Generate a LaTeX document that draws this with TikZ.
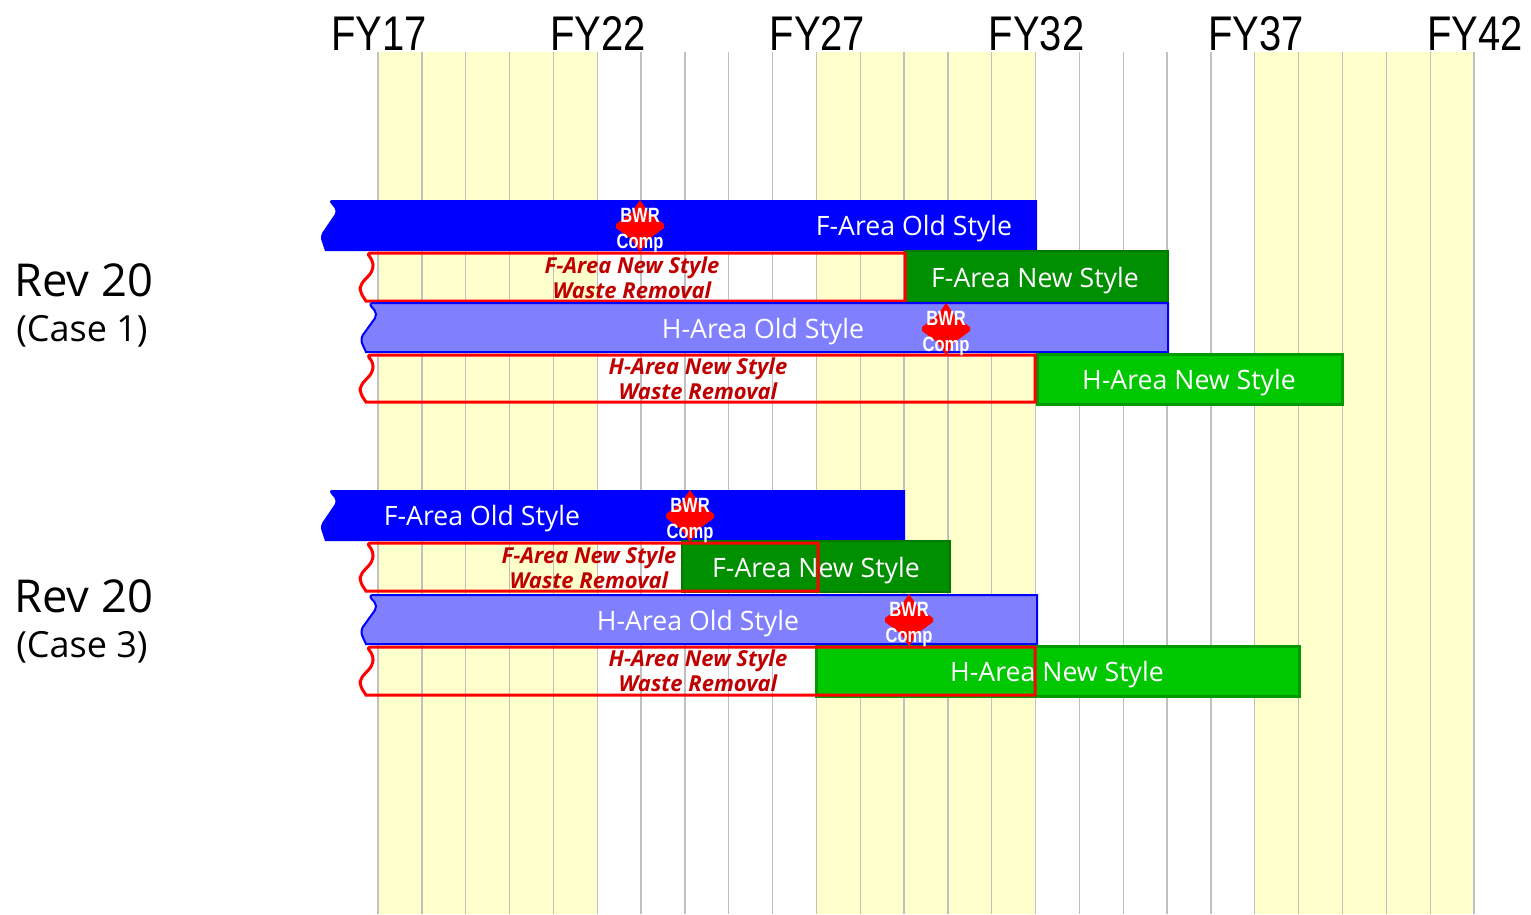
\documentclass[tikz,border=0pt]{standalone}
\usepackage{fontspec}
\setmainfont{Open Sans}
\newfontfamily\fyfont[FakeStretch=0.82]{Liberation Sans}
\newfontfamily\bwrfont[FakeStretch=0.8]{Liberation Sans}
\definecolor{bandyellow}{HTML}{FFFFCC}
\definecolor{gridgray}{HTML}{C0C0C0}
\definecolor{oldblue}{HTML}{0000FF}
\definecolor{oldlight}{HTML}{8080FF}
\definecolor{newdark}{HTML}{008F00}
\definecolor{newbright}{HTML}{00C800}
\definecolor{newedge}{HTML}{009900}
\definecolor{wrred}{HTML}{C00000}

\begin{document}
\begin{tikzpicture}[x=0.75pt,y=-0.75pt,
  fylabel/.style={anchor=base,inner sep=0pt,font=\fyfont\fontsize{36.5}{40}\selectfont},
  revlabel/.style={anchor=base west,inner sep=0pt,font=\fontsize{34}{40}\selectfont},
  caselabel/.style={anchor=base west,inner sep=0pt,font=\fontsize{27}{32}\selectfont},
  oldbar/.style={fill=oldblue},
  lightbar/.style={fill=oldlight,draw=oldblue,line width=1.5pt},
  darkbar/.style={fill=newdark,draw=newdark!85!black,line width=1pt},
  brightbar/.style={fill=newbright,draw=newedge,line width=2.25pt},
  wrbox/.style={draw=red,line width=2.25pt},
  bartext/.style={anchor=base,inner sep=0pt,text=white,font=\fontsize{20}{24}\selectfont},
  wrtext/.style={inner sep=0pt,text=wrred,align=center,font=\bfseries\itshape\fontsize{16.5}{18.75}\selectfont},
  bwrtext/.style={anchor=base,inner sep=0pt,text=white,font=\bwrfont\bfseries\fontsize{15.5}{17}\selectfont},
  bwr/.pic={
    \fill[red] (0,-26) -- (9,-13) -- (24,-2) -- (24,2) -- (9,13) -- (0,26)
      -- (-9,13) -- (-24,2) -- (-24,-2) -- (-9,-13) -- cycle;
    \node[bwrtext] (-top) at (0,-4) {BWR};
    \node[bwrtext] (-bottom) at (0,22) {Comp};
  }]
  \useasboundingbox (0,0) rectangle (1531,914);

  \fill[bandyellow] (378,52) rectangle (597,914);
  \fill[bandyellow] (816,52) rectangle (1035,914);
  \fill[bandyellow] (1255,52) rectangle (1474,914);
  \foreach \k in {0,...,25}
    \draw[gridgray,line width=1pt] ({378+43.84*\k},52) -- ({378+43.84*\k},914);
  \foreach \yr [count=\j from 0] in {17,22,27,32,37,42}
    \node[fylabel] (fy\yr) at ({379+219.2*\j},50) {FY\yr};

  \node[revlabel] (rev1) at (14,296) {Rev 20};
  \node[caselabel] (case1) at (16,341) {(Case 1)};
  \node[revlabel] (rev3) at (14,612) {Rev 20};
  \node[caselabel] (case3) at (16,657) {(Case 3)};

  \fill[oldbar] (328,200) -- (1037,200) -- (1037,251) -- (325,251) [rounded corners=3pt] -- (320,236) -- (337,211) -- cycle;
  \node[bartext] (fold1) at (914,235) {F-Area Old Style};
  \draw[darkbar] (905,251) rectangle (1168,302);
  \node[bartext] (fnew1) at (1035,287) {F-Area New Style};
  \draw[wrbox] (905,253) -- (905,301) -- (366,301) [rounded corners=4pt] -- (360,292) -- (360,285) -- (373,271) -- (373,260) -- (366,253) [sharp corners] -- cycle;
  \node[wrtext] (fwr1) at (632,278) {F-Area New Style\\Waste Removal};
  \draw[lightbar] (368,303) -- (1168,303) -- (1168,352) -- (366,352) [rounded corners=4pt] -- (360,339) -- (378,314) -- cycle;
  \node[bartext] (hold1) at (763,338) {H-Area Old Style};
  \draw[brightbar] (1037,354) rectangle (1342,404);
  \node[bartext] (hnew1) at (1189,389) {H-Area New Style};
  \draw[wrbox] (1035,355) -- (1035,402) -- (366,402) [rounded corners=4pt] -- (360,393) -- (360,386) -- (373,372) -- (373,361) -- (366,355) [sharp corners] -- cycle;
  \node[wrtext] (hwr1) at (698,379) {H-Area New Style\\Waste Removal};
  \pic (bwrF1) at (640,226) {bwr};
  \pic (bwrH1) at (946,329) {bwr};

  \fill[oldbar] (328,490) -- (905,490) -- (905,541) -- (325,541) [rounded corners=3pt] -- (320,526) -- (337,501) -- cycle;
  \node[bartext] (fold3) at (482,525) {F-Area Old Style};
  \draw[darkbar] (682,541) rectangle (950,592);
  \node[bartext] (fnew3) at (816,577) {F-Area New Style};
  \draw[wrbox] (818,543) -- (818,591) -- (366,591) [rounded corners=4pt] -- (360,582) -- (360,575) -- (373,561) -- (373,550) -- (366,543) [sharp corners] -- cycle;
  \node[wrtext] (fwr3) at (589,568) {F-Area New Style\\Waste Removal};
  \draw[lightbar] (368,595) -- (1037,595) -- (1037,644) -- (366,644) [rounded corners=4pt] -- (360,631) -- (378,606) -- cycle;
  \node[bartext] (hold3) at (698,630) {H-Area Old Style};
  \draw[brightbar] (816,646) rectangle (1299,696);
  \draw[wrbox] (1035,647) -- (1035,695) -- (366,695) [rounded corners=4pt] -- (360,686) -- (360,679) -- (373,665) -- (373,654) -- (366,647) [sharp corners] -- cycle;
  \node[bartext] (hnew3) at (1057,681) {H-Area New Style};
  \node[wrtext] (hwr3) at (698,671) {H-Area New Style\\Waste Removal};
  \pic (bwrF3) at (690,516) {bwr};
  \pic (bwrH3) at (909,620) {bwr};

\end{tikzpicture}
\end{document}
